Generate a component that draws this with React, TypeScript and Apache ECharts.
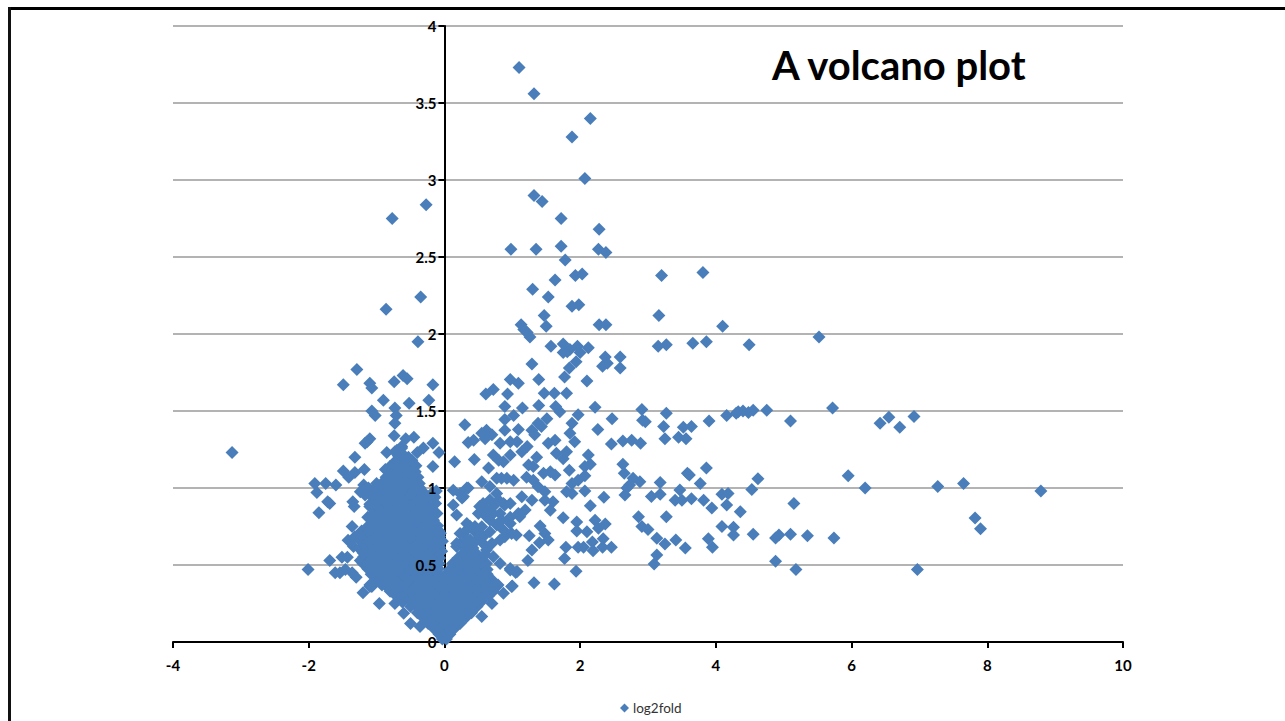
import React, { useEffect, useRef } from "react";
import * as echarts from "echarts";

const seriesName = "log2fold";
const titleText = "A volcano plot";

// Sparse points, top of the plot and the far right
const upperPoints: [number, number][] = [
  [1.1,3.73],[1.32,3.56],[2.15,3.4],[1.88,3.28],[2.07,3.01],[1.32,2.9],[1.44,2.86],[-0.27,2.84],[-0.77,2.75],[1.72,2.75],
  [2.28,2.68],[0.98,2.55],[1.35,2.55],[1.72,2.57],[2.27,2.55],[2.38,2.53],[1.78,2.48],[1.93,2.38],[2.03,2.39],[3.2,2.38],
  [3.81,2.4],[1.63,2.35],[1.3,2.29],[1.53,2.24],[-0.35,2.24],[1.88,2.18],[1.98,2.19],[-0.86,2.16],[3.16,2.12],[1.47,2.12],
  [2.28,2.06],[2.38,2.06],[1.5,2.05],[1.13,2.06],[1.17,2.03],[1.22,2.01],[1.26,1.98],[4.1,2.05],[5.52,1.98],[-0.39,1.95],
  [2.0,1.88],[1.75,1.88],[1.85,1.9],
];
const farRightPoints: [number, number][] = [
  [5.95,1.08],[6.2,1.0],[4.62,1.06],[4.53,0.99],[7.27,1.01],[7.65,1.03],[8.79,0.98],[7.82,0.805],[7.9,0.735],[6.97,0.47],
  [5.15,0.9],[4.55,0.7],[4.88,0.675],[4.93,0.695],[5.1,0.7],[5.35,0.69],[5.74,0.675],[4.88,0.525],[5.18,0.47],
  [5.1,1.435],[5.72,1.52],[6.42,1.42],[6.55,1.46],[6.71,1.395],[6.92,1.465],[4.75,1.505],[4.55,1.505],[4.48,1.49],
];
// Points of the middle field, right of the axis
const middlePoints: [number, number][] = [
  [1.57,1.92],[1.75,1.935],[1.81,1.885],[1.96,1.92],[2.12,1.91],[2.37,1.85],[2.33,1.79],[2.4,1.81],[2.59,1.85],[2.59,1.78],
  [3.15,1.92],[3.27,1.93],[3.66,1.94],[3.86,1.95],[4.49,1.93],[1.29,1.805],[1.94,1.82],[1.84,1.78],[1.77,1.72],[0.97,1.705],
  [1.09,1.68],[1.39,1.705],[2.1,1.695],[0.72,1.64],[0.61,1.61],[0.93,1.61],[1.47,1.615],[1.62,1.615],[1.8,1.615],[0.89,1.53],
  [1.15,1.52],[1.39,1.535],[1.64,1.53],[1.7,1.495],[2.22,1.525],[2.91,1.51],[3.27,1.485],[4.16,1.47],[4.33,1.495],[4.3,1.485],
  [4.4,1.5],[0.3,1.41],[1.02,1.47],[0.89,1.445],[1.97,1.475],[1.88,1.42],[2.47,1.45],[3.9,1.435],[2.26,1.38],[3.23,1.4],
  [2.92,1.44],[2.96,1.43],[3.64,1.4],[3.52,1.395],[3.45,1.33],[3.56,1.32],[3.25,1.32],[2.46,1.285],[2.63,1.305],[2.76,1.31],
  [2.89,1.29],[0.43,1.31],[0.35,1.295],[0.62,1.375],[0.55,1.355],[0.7,1.345],[0.6,1.32],[0.89,1.375],[1.09,1.38],[1.07,1.3],
  [0.97,1.3],[0.82,1.29],[1.29,1.375],[1.38,1.42],[1.51,1.45],[1.33,1.345],[1.43,1.4],[1.85,1.355],[1.92,1.3],[1.53,1.29],
  [1.63,1.31],[1.22,1.27],[1.14,1.235],[1.65,1.225],[1.8,1.235],[1.75,1.19],[0.15,1.17],[0.44,1.185],[0.72,1.215],[0.8,1.18],
  [0.65,1.13],[0.97,1.215],[0.87,1.17],[1.36,1.2],[1.24,1.15],[1.31,1.14],[2.12,1.215],[2.15,1.155],[2.07,1.14],[1.84,1.115],
  [2.63,1.155],[2.65,1.095],[3.86,1.13],[3.58,1.095],[3.61,1.085],[2.78,1.063],[2.88,1.04],[2.73,1.02],[2.69,1.0],[3.18,1.035],
  [3.77,1.03],[0.55,1.04],[0.35,1.0],[1.56,1.105],[1.46,1.095],[1.63,1.085],[1.21,1.07],[1.31,1.05],[0.84,1.063],[0.77,1.063],
  [0.92,1.063],[1.02,1.05],[2.07,1.08],[1.97,1.05],[1.88,1.03],[1.88,0.965],[1.8,0.975],[2.07,0.98],[2.35,0.94],[2.15,0.885],
  [1.38,1.008],[1.48,0.976],[1.48,0.92],[1.6,0.91],[1.56,0.855],[2.66,0.955],[3.05,0.945],[3.18,0.96],[3.47,0.987],[3.4,0.92],
  [3.5,0.92],[3.64,0.93],[3.82,0.92],[3.94,0.87],[4.16,0.89],[4.09,0.96],[4.18,0.965],[4.36,0.846],[3.27,0.814],[2.86,0.814],
  [2.91,0.75],[3.0,0.73],[4.09,0.75],[4.26,0.745],[4.26,0.695],[3.13,0.673],[3.25,0.636],[3.41,0.662],[3.55,0.61],[3.89,0.67],
  [3.95,0.615],[3.13,0.565],[3.09,0.506],[1.75,0.807],[1.95,0.78],[1.95,0.72],[2.1,0.716],[2.22,0.79],[2.37,0.766],[2.27,0.738],
  [2.34,0.67],[2.18,0.65],[2.19,0.593],[2.33,0.615],[2.46,0.615],[1.97,0.615],[2.05,0.615],[1.79,0.615],[1.77,0.543],[1.94,0.46],
  [1.32,0.385],[1.62,0.377],[1.23,0.53],[1.29,0.597],[1.41,0.753],[1.48,0.705],[1.53,0.662],[1.4,0.645],[1.25,0.69],[0.97,0.467],
  [1.05,0.452],[1.0,0.363],[0.77,0.363],[1.14,0.943],[1.29,0.92],[1.19,0.857],[1.11,0.814],[0.99,0.705],[0.87,0.727],[1.06,0.695],
  [0.82,0.662],[0.7,0.64],[0.67,1.01],[0.8,0.92],[0.89,0.89],[0.57,0.9],[0.5,0.835],[0.72,0.88],[0.97,0.81],[0.82,0.835],
  [0.62,0.814],[0.33,0.77],[0.18,0.825],[0.13,0.89],[0.28,0.945],[0.67,0.716],[0.52,0.684],[0.38,0.662],[0.23,0.64],[0.18,0.64],
  [0.3,0.716],[0.45,0.75],[0.57,0.64],[0.13,0.985],[0.23,0.965],[0.33,1.0],[0.26,0.935],[0.18,0.62],[0.28,0.7],[0.38,0.75],
  [0.23,0.705],[0.33,0.66],[0.475,0.66],[0.57,0.684],[0.62,0.597],[0.43,0.576],[0.28,0.62],[0.72,0.554],[0.82,0.51],[0.57,0.554],
  [0.45,0.716],[0.55,0.749],[0.67,0.792],[0.77,0.76],[0.84,0.792],[0.97,0.77],[0.89,0.684],[1.09,0.835],[0.57,0.857],[0.67,0.922],
  [0.77,0.965],[0.87,0.9],[0.97,0.9],[0.72,0.835],[0.62,0.857],[0.52,0.88],
];
// Points around the dense left-hand cluster
const leftPoints: [number, number][] = [
  [-3.13,1.23],[-1.29,1.77],[-1.49,1.67],[-1.1,1.68],[-1.07,1.65],[-0.74,1.69],[-0.61,1.73],[-0.55,1.71],[-0.17,1.67],[-0.9,1.57],
  [-0.52,1.55],[-0.23,1.57],[-0.73,1.52],[-1.07,1.5],[-1.02,1.47],[-0.71,1.47],[-0.73,1.42],[-0.74,1.34],[-0.57,1.32],[-0.45,1.33],
  [-1.14,1.3],[-1.1,1.32],[-1.17,1.29],[-0.17,1.29],[-0.08,1.23],[-0.31,1.26],[-0.4,1.23],[-0.85,1.23],[-1.32,1.2],[-1.49,1.11],
  [-1.41,1.07],[-1.32,1.1],[-1.18,1.12],[-0.17,1.14],[-1.91,1.03],[-1.75,1.03],[-1.6,1.02],[-1.88,0.97],[-1.72,0.91],[-1.69,0.9],
  [-1.85,0.84],[-1.35,0.91],[-1.33,0.88],[-1.36,0.75],[-1.42,0.66],[-2.01,0.47],[-1.69,0.53],[-1.61,0.45],[-1.54,0.45],[-1.46,0.47],
  [-1.43,0.55],[-1.51,0.55],[-1.3,0.42],[-1.36,0.45],[-1.2,0.32],[-1.1,0.37],[-1.07,0.36],[-0.96,0.25],[-0.12,0.98],[-0.13,0.9],
  [-0.8,1.14],[-0.73,1.235],[-0.63,1.27],[-0.53,1.2],[-0.46,1.14],[-0.43,1.105],[-0.87,1.12],
  [-1.19,1.02],[-1.12,1.0],[-1.0,1.03],[-0.9,1.04],[-1.24,0.976],[-1.17,0.955],[-1.07,0.976],[-0.95,0.944],[-1.13,0.81],[-1.1,0.88],[-1.02,0.9],
  [-0.19,0.965],[-0.14,0.94],[-0.26,0.92],[-0.11,0.835],[-0.19,0.77],[-0.06,0.706],[-0.11,0.727],[-0.31,0.88],
  [-1.24,0.705],[-1.32,0.684],[-1.24,0.6],[-1.34,0.62],[-1.19,0.554],[-1.1,0.49],[-1.24,0.53],[-1.1,0.36],
  [-0.95,0.446],[-0.85,0.36],[-0.75,0.316],[-0.73,0.25],[-0.6,0.186],[-0.5,0.12],[-0.36,0.1],
  [0.77,0.36],[0.87,0.316],[0.99,0.36],[0.55,0.165],[0.7,0.25],[0.97,0.478],[1.07,0.457],
];
// Dense cluster around the origin, read row by row
const clusterPoints: [number, number][] = [
  [-0.03,0.02],[0.03,0.02],[-0.08,0.05],[0.08,0.05],[-0.16,0.09],[0.0,0.08],[0.15,0.09],[-0.24,0.12],[-0.08,0.12],[0.08,0.12],[0.23,0.12],
  [-0.32,0.16],[-0.16,0.16],[0.0,0.155],[0.16,0.16],[0.32,0.16],[-0.4,0.19],[-0.24,0.195],[-0.08,0.19],[0.08,0.19],[0.24,0.195],[0.4,0.19],
  [-0.5,0.23],[-0.32,0.23],[-0.16,0.225],[0.0,0.23],[0.16,0.23],[0.32,0.23],[0.48,0.23],[-0.62,0.26],[-0.4,0.265],[-0.24,0.26],[-0.08,0.26],
  [0.08,0.265],[0.24,0.26],[0.4,0.26],[0.55,0.265],[-0.7,0.3],[-0.5,0.3],[-0.32,0.295],[-0.16,0.3],[0.0,0.3],[0.16,0.295],[0.32,0.3],[0.48,0.3],
  [0.65,0.3],[-0.8,0.33],[-0.6,0.335],[-0.4,0.33],[-0.24,0.33],[-0.08,0.335],[0.08,0.33],[0.24,0.33],[0.4,0.335],[0.55,0.33],[0.72,0.33],
  [-0.92,0.37],[-0.72,0.37],[-0.5,0.365],[-0.32,0.37],[-0.16,0.37],[0.0,0.365],[0.16,0.37],[0.32,0.37],[0.48,0.365],[0.65,0.37],[0.79,0.37],
  [-1.0,0.405],[-0.82,0.4],[-0.62,0.405],[-0.42,0.4],[-0.24,0.405],[-0.08,0.4],[0.08,0.405],[0.24,0.4],[0.4,0.405],[0.56,0.4],[0.7,0.405],
  [-1.08,0.44],[-0.9,0.44],[-0.72,0.435],[-0.52,0.44],[-0.33,0.44],[-0.16,0.44],[0.02,0.44],[0.16,0.435],[0.32,0.44],[0.48,0.44],[0.63,0.44],
  [-1.13,0.475],[-0.98,0.47],[-0.8,0.475],[-0.62,0.47],[-0.42,0.475],[-0.24,0.47],[-0.09,0.475],[0.08,0.47],[0.24,0.475],[0.4,0.47],[0.56,0.475],
  [-1.2,0.51],[-1.05,0.51],[-0.88,0.505],[-0.7,0.51],[-0.52,0.51],[-0.33,0.505],[-0.16,0.51],[0.12,0.51],[0.3,0.505],[0.47,0.51],[0.62,0.51],
  [-1.12,0.545],[-0.95,0.54],[-0.78,0.545],[-0.6,0.54],[-0.42,0.545],[-0.24,0.54],[-0.07,0.545],[0.2,0.545],[0.38,0.54],[0.54,0.545],
  [-1.2,0.58],[-1.03,0.58],[-0.86,0.575],[-0.68,0.58],[-0.5,0.58],[-0.32,0.575],[-0.15,0.58],[-0.04,0.59],[0.28,0.58],[0.46,0.58],[0.6,0.57],
  [-1.12,0.615],[-0.95,0.61],[-0.77,0.615],[-0.59,0.61],[-0.41,0.615],[-0.23,0.61],[-0.07,0.615],[0.32,0.62],[0.42,0.61],
  [-1.22,0.65],[-1.04,0.65],[-0.86,0.645],[-0.68,0.65],[-0.5,0.65],[-0.32,0.645],[-0.15,0.65],[-0.03,0.655],
  [-1.13,0.685],[-0.95,0.68],[-0.77,0.685],[-0.59,0.68],[-0.41,0.685],[-0.23,0.68],[-0.07,0.685],
  [-1.22,0.72],[-1.04,0.72],[-0.86,0.715],[-0.68,0.72],[-0.5,0.72],[-0.32,0.715],[-0.15,0.72],
  [-1.12,0.755],[-0.95,0.75],[-0.77,0.755],[-0.59,0.75],[-0.41,0.755],[-0.23,0.75],[-0.1,0.755],
  [-1.04,0.79],[-0.86,0.785],[-0.68,0.79],[-0.5,0.79],[-0.32,0.785],[-0.16,0.79],
  [-1.06,0.825],[-0.95,0.82],[-0.77,0.825],[-0.59,0.82],[-0.41,0.825],[-0.25,0.82],
  [-1.02,0.86],[-0.86,0.855],[-0.68,0.86],[-0.5,0.86],[-0.33,0.855],[-0.18,0.86],
  [-1.1,0.895],[-0.93,0.89],[-0.77,0.895],[-0.59,0.89],[-0.41,0.895],[-0.27,0.89],
  [-1.02,0.93],[-0.86,0.925],[-0.68,0.93],[-0.5,0.93],[-0.33,0.925],
  [-1.12,0.965],[-0.94,0.96],[-0.77,0.965],[-0.59,0.96],[-0.41,0.965],[-0.28,0.96],
  [-1.02,1.0],[-0.86,0.995],[-0.68,1.0],[-0.5,0.995],[-0.36,1.0],
  [-0.78,1.035],[-0.6,1.03],[-0.43,1.035],[-0.86,1.07],[-0.69,1.065],[-0.52,1.07],[-0.39,1.07],
  [-0.77,1.105],[-0.6,1.1],[-0.44,1.105],[-0.8,1.14],[-0.68,1.135],[-0.52,1.14],[-0.42,1.145],
  [-0.72,1.175],[-0.6,1.17],[-0.48,1.18],[-0.68,1.21],[-0.58,1.205],[-0.7,1.245],[-0.63,1.26],
];
// Further points inside the solid part of the cluster
const clusterFill: [number, number][] = [
  [-0.08,0.09],[0.08,0.09],[-0.16,0.125],[0.0,0.125],[0.16,0.125],[-0.24,0.16],[-0.08,0.155],[0.08,0.16],[0.24,0.16],
  [-0.32,0.195],[-0.16,0.19],[0.0,0.195],[0.16,0.19],[0.32,0.195],[-0.41,0.23],[-0.24,0.225],[-0.08,0.23],[0.08,0.225],[0.24,0.23],[0.4,0.23],
  [-0.51,0.265],[-0.32,0.26],[-0.16,0.265],[0.0,0.26],[0.16,0.265],[0.32,0.26],[0.48,0.265],
  [-0.6,0.3],[-0.41,0.3],[-0.24,0.295],[-0.08,0.3],[0.08,0.295],[0.24,0.3],[0.4,0.3],[0.56,0.295],
  [-0.7,0.335],[-0.5,0.33],[-0.32,0.335],[-0.16,0.33],[0.0,0.335],[0.16,0.33],[0.32,0.335],[0.48,0.33],[0.64,0.335],
  [-0.82,0.37],[-0.61,0.37],[-0.41,0.365],[-0.24,0.37],[-0.08,0.365],[0.08,0.37],[0.24,0.365],[0.4,0.37],[0.56,0.365],[0.72,0.37],
  [-0.91,0.405],[-0.72,0.4],[-0.52,0.405],[-0.33,0.4],[-0.16,0.405],[0.0,0.4],[0.16,0.405],[0.32,0.4],[0.48,0.405],[0.63,0.4],
  [-0.99,0.44],[-0.81,0.435],[-0.62,0.44],[-0.42,0.435],[-0.24,0.44],[-0.07,0.435],[0.08,0.44],[0.24,0.435],[0.4,0.44],[0.56,0.435],
  [-1.05,0.475],[-0.89,0.47],[-0.71,0.475],[-0.52,0.47],[-0.33,0.475],[-0.16,0.47],[0.16,0.475],[0.32,0.47],[0.48,0.475],[0.63,0.47],
  [-1.13,0.51],[-0.96,0.505],[-0.79,0.51],[-0.61,0.505],[-0.42,0.51],[-0.24,0.505],[-0.08,0.51],[0.21,0.51],[0.38,0.505],[0.55,0.51],
  [-1.03,0.545],[-0.87,0.54],[-0.69,0.545],[-0.51,0.54],[-0.33,0.545],[-0.16,0.54],[0.29,0.545],[0.46,0.54],
  [-1.12,0.58],[-0.95,0.575],[-0.77,0.58],[-0.59,0.575],[-0.41,0.58],[-0.23,0.575],[-0.08,0.58],[0.37,0.58],
  [-1.03,0.615],[-0.86,0.61],[-0.68,0.615],[-0.5,0.61],[-0.32,0.615],[-0.15,0.61],
  [-1.13,0.65],[-0.95,0.645],[-0.77,0.65],[-0.59,0.645],[-0.41,0.65],[-0.23,0.645],[-0.08,0.65],
  [-1.04,0.685],[-0.86,0.68],[-0.68,0.685],[-0.5,0.68],[-0.32,0.685],[-0.15,0.68],
  [-1.13,0.72],[-0.95,0.715],[-0.77,0.72],[-0.59,0.715],[-0.41,0.72],[-0.23,0.715],[-0.08,0.72],
  [-1.03,0.755],[-0.86,0.75],[-0.68,0.755],[-0.5,0.75],[-0.32,0.755],[-0.16,0.75],
  [-0.95,0.79],[-0.77,0.785],[-0.59,0.79],[-0.41,0.785],[-0.24,0.79],
  [-0.86,0.825],[-0.68,0.82],[-0.5,0.825],[-0.33,0.82],[-0.18,0.825],
  [-0.94,0.86],[-0.77,0.855],[-0.59,0.86],[-0.41,0.855],[-0.25,0.86],
  [-1.02,0.895],[-0.85,0.89],[-0.68,0.895],[-0.5,0.89],[-0.34,0.895],
  [-0.94,0.93],[-0.77,0.925],[-0.59,0.93],[-0.41,0.925],[-0.27,0.93],
  [-1.03,0.965],[-0.86,0.96],[-0.68,0.965],[-0.5,0.96],[-0.34,0.965],
  [-0.94,1.0],[-0.77,0.995],[-0.59,1.0],[-0.43,0.995],[-0.86,1.035],[-0.69,1.03],[-0.51,1.035],[-0.37,1.03],
  [-0.77,1.07],[-0.6,1.065],[-0.45,1.07],[-0.68,1.1],[-0.52,1.105],[-0.6,1.14],[-0.66,1.175],[-0.54,1.175],
];

const allPoints = [...upperPoints, ...farRightPoints, ...middlePoints, ...leftPoints, ...clusterPoints, ...clusterFill];

const xMin = -4, xMax = 10, xStep = 2;
const yMin = 0, yMax = 4, yStep = 0.5;

const font = "Lato";
const plotWidth = 950;

export default function App() {
  const ref = useRef<HTMLDivElement>(null);
  useEffect(() => {
    const chart = echarts.init(ref.current!, null, { renderer: "svg" });
    chart.setOption({
      animation: false,
      backgroundColor: "#ffffff",
      grid: { left: 173, width: plotWidth, top: 26, height: 616, containLabel: false },
      xAxis: {
        type: "value", min: xMin, max: xMax, interval: xStep,
        axisLine: { onZero: true, lineStyle: { color: "#000", width: 2 } },
        axisTick: { show: true, length: 6, lineStyle: { color: "#000", width: 2 } },
        axisLabel: { color: "#000", fontFamily: font, fontWeight: "bold", fontSize: 15, margin: 15 },
        splitLine: { show: false },
      },
      yAxis: [
        {
          type: "value", min: yMin, max: yMax, interval: yStep,
          axisLine: { show: true, onZero: true, lineStyle: { color: "#000", width: 2 } },
          axisTick: { show: true, length: 6, lineStyle: { color: "#000", width: 2 } },
          axisLabel: { show: false },
          splitLine: { show: true, lineStyle: { color: "#9a9a9a", width: 1.5 } },
        },
        {
          // same scale again, only to draw the tick labels above the points, beside x = 0
          type: "value", min: yMin, max: yMax, interval: yStep, position: "left", z: 5,
          offset: -((0 - xMin) / (xMax - xMin)) * plotWidth,
          axisLine: { show: false, onZero: false },
          axisTick: { show: false },
          axisLabel: { color: "#000", fontFamily: font, fontWeight: "bold", fontSize: 15, margin: 8 },
          splitLine: { show: false },
        },
      ],
      legend: {
        show: true, data: [{ name: seriesName, icon: "diamond" }], left: 615, top: 696,
        itemWidth: 9, itemHeight: 9, itemGap: 0,
        textStyle: { color: "#333", fontFamily: font, fontSize: 13.5, padding: [0, 0, 0, -1] },
      },
      graphic: [
        { type: "rect", shape: { x: 8, y: 7, width: 1277, height: 3 }, style: { fill: "#000" } },
        { type: "rect", shape: { x: 8, y: 7, width: 3, height: 714 }, style: { fill: "#111" } },
        {
          type: "text", left: 772, top: 45,
          style: { text: titleText, fill: "#000", font: `bold 40px ${font}` },
        },
      ],
      series: [
        {
          name: seriesName, type: "scatter", symbol: "diamond", symbolSize: 13, clip: false,
          itemStyle: { color: "#4a7ebb", opacity: 1 }, data: allPoints,
        },
      ],
    });
    return () => chart.dispose();
  }, []);
  return <div ref={ref} style={{ position: "fixed", left: 0, top: 0, width: 1285, height: 721, overflow: "hidden" }} />;
}
